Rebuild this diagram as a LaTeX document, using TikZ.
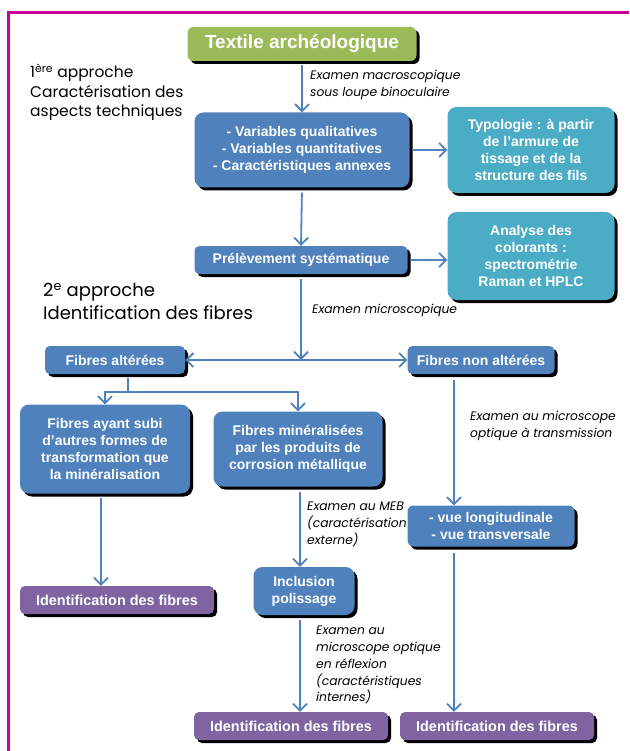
\documentclass[tikz,border=0pt]{standalone}
\usepackage{fontspec}
\setmainfont{Liberation Sans}
\newfontfamily\gothic{Poppins}
\usetikzlibrary{arrows.meta,shadows,positioning,calc}

\definecolor{vert}{HTML}{9BBB59}
\definecolor{bleu}{HTML}{4F81BD}
\definecolor{turquoise}{HTML}{4BACC6}
\definecolor{violet}{HTML}{8064A2}
\definecolor{cadre}{HTML}{CC0099}

\tikzset{
  boite/.style={rounded corners=9pt, fill=bleu, text=white, align=center,
    inner sep=0pt, font=\bfseries\fontsize{14}{17}\selectfont,
    drop shadow={shadow xshift=3pt, shadow yshift=-3pt, fill=black, opacity=1}},
  petite/.style={boite, rounded corners=5pt},
  ident/.style={petite, fill=violet, minimum width=194pt, minimum height=28pt,
    font=\bfseries\fontsize{14.4}{17}\selectfont},
  fleche/.style={draw=bleu, line width=1.8pt, -{Straight Barb[length=7pt,width=14pt]}},
  trait/.style={draw=bleu, line width=1.8pt},
  examen/.style={anchor=north west, align=left, inner sep=0pt,
    font=\gothic\itshape\fontsize{12.3}{16.8}\selectfont},
  approche/.style={anchor=north west, align=left, inner sep=0pt}
}

\begin{document}
\begin{tikzpicture}[x=1pt, y=-1pt]
        % Umgebung
        \useasboundingbox (0,0) rectangle (629,751);
        \draw[cadre, line width=3pt] (629,13) -- (8.5,13) -- (8.5,751);

        % Titres des approches
        \node[approche, font=\gothic\fontsize{15.5}{19.5}\selectfont] (app1) at (30,64)
            {1\textsuperscript{ère} approche\\Caractérisation des\\aspects techniques};
        \node[approche, font=\gothic\fontsize{18}{23}\selectfont] (app2) at (43,283)
            {2\textsuperscript{e} approche\\Identification des fibres};

        % Boites
        \node[boite, fill=vert, rounded corners=6pt, minimum width=229pt, minimum height=34pt,
              font=\bfseries\fontsize{19}{20}\selectfont] (textile) at (302,44) {Textile archéologique};
        \node[boite, minimum width=215pt, minimum height=75pt] (variables) at (302,150)
            {- Variables qualitatives\\- Variables quantitatives\\- Caractéristiques annexes};
        \node[boite, fill=turquoise, minimum width=167pt, minimum height=86pt] (typologie) at (531,150)
            {Typologie : à partir\\de l’armure de\\tissage et de la\\structure des fils};
        \node[petite, minimum width=213pt, minimum height=28pt] (prelevement) at (301,260)
            {Prélèvement systématique};
        \node[boite, fill=turquoise, minimum width=167pt, minimum height=88pt] (colorants) at (531,256)
            {Analyse des\\colorants :\\spectrométrie\\Raman et HPLC};
        \node[petite, minimum width=140pt, minimum height=28pt] (alterees) at (115,360) {Fibres altérées};
        \node[petite, minimum width=147pt, minimum height=28pt] (nonalterees) at (481,360) {Fibres non altérées};
        \node[boite, minimum width=170pt, minimum height=89pt] (transfo) at (105,449)
            {Fibres ayant subi\\d’autres formes de\\transformation que\\la minéralisation};
        \node[boite, minimum width=169pt, minimum height=75pt] (mineral) at (298,449)
            {Fibres minéralisées\\par les produits de\\corrosion métallique};
        \node[boite, minimum width=101pt, minimum height=48pt] (inclusion) at (304,591)
            {Inclusion\\polissage};
        \node[boite, rounded corners=6pt, minimum width=167pt, minimum height=41pt] (vues) at (491,526)
            {- vue longitudinale\\- vue transversale};
        \node[ident] (ident1) at (117,600) {Identification des fibres};
        \node[ident] (ident2) at (291,726) {Identification des fibres};
        \node[ident] (ident3) at (497,726) {Identification des fibres};

        % Hilfspunkte
        \coordinate (jonction) at (prelevement.south |- alterees.east);
        \coordinate (fourche) at (128,392);
        \coordinate (axe) at (454,0);

        % Fleches
        \draw[fleche, shorten <=4pt] (textile.south) -- (variables.north);
        \draw[fleche, shorten <=2pt] (variables.east) -- (typologie.west);
        \draw[fleche, shorten <=5pt] (variables.south) -- (prelevement.north);
        \draw[fleche, shorten <=2pt] (prelevement.east) -- (prelevement.east -| colorants.west);
        \draw[fleche, shorten <=5pt] (prelevement.south) -- (jonction);
        \draw[fleche] (jonction) -- (alterees.east);
        \draw[fleche] (jonction) -- (nonalterees.west);
        \draw[trait, shorten <=4pt] (alterees.south -| fourche) -- (fourche);
        \draw[fleche] (fourche) -| (transfo.north);
        \draw[fleche] (fourche) -| (mineral.north);
        \draw[fleche, shorten <=4pt] ([xshift=-4pt]transfo.south) -- ([xshift=-4pt]transfo.south |- ident1.north);
        \draw[fleche, shorten <=5pt] ([xshift=2pt]mineral.south) -- ([xshift=2pt]mineral.south |- inclusion.north);
        \draw[fleche, shorten <=5pt] ([xshift=-4pt]inclusion.south) -- ([xshift=-4pt]inclusion.south |- ident2.north);
        \draw[fleche, shorten <=6pt] (nonalterees.south -| axe) -- (vues.north -| axe);
        \draw[fleche, shorten <=6pt] (vues.south -| axe) -- (ident3.north -| axe);

        % Examens
        \node[examen] (ex1) at (310,70) {Examen macroscopique\\sous loupe binoculaire};
        \node[examen] (ex2) at (312,304) {Examen microscopique};
        \node[examen] (ex3) at (470,411) {Examen au microscope\\optique à transmission};
        \node[examen] (ex4) at (307,502) {Examen au MEB\\(caractérisation\\externe)};
        \node[examen] (ex5) at (316,626) {Examen au\\microscope optique\\en réflexion\\(caractéristiques\\internes)};

    \end{tikzpicture}
\end{document}
